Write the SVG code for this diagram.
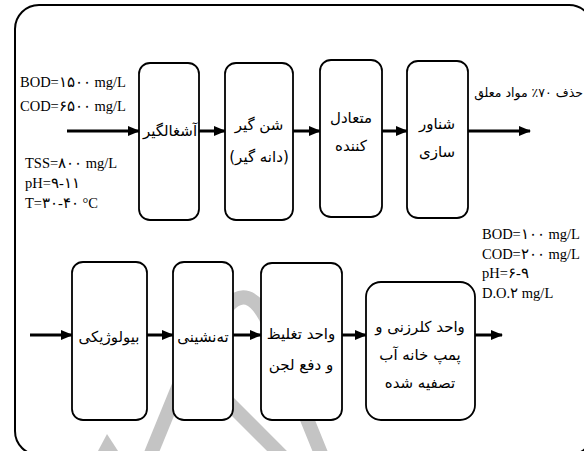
<svg xmlns="http://www.w3.org/2000/svg" width="584" height="451" viewBox="0 0 584 451">
<style>
.box{fill:#fff;stroke:#000;stroke-width:1.8}
.lat{font-family:"Liberation Serif","DejaVu Serif",serif;font-size:14.5px;fill:#000}
.fa{font-family:"DejaVu Sans","Noto Sans",sans-serif;font-size:15px;fill:#000}
.con{stroke:#000;stroke-width:3;fill:none}
.wm{stroke:#c4c4c4;stroke-width:14;fill:none}
</style>
<defs>
<marker id="ah" markerUnits="userSpaceOnUse" markerWidth="12" markerHeight="10" refX="11" refY="5" orient="auto">
<path d="M0,0 L12,5 L0,10 Z" fill="#000"/>
</marker>
</defs>
<rect x="15" y="5" width="578" height="450" rx="24" fill="#fff" stroke="#000" stroke-width="2"/>
<g id="watermark">
<path class="wm" d="M228,306 Q248,284 266,318 L322,456"/>
<path class="wm" d="M150,456 L186,368"/>
<path class="wm" d="M198,372 L282,456"/>
<path d="M98,451 L107,434 L118,451 Z" fill="#c4c4c4"/>
</g>
<g id="connectors">
<line class="con" x1="67" y1="131" x2="139" y2="131" marker-end="url(#ah)"/>
<line class="con" x1="199" y1="131" x2="225" y2="131" marker-end="url(#ah)"/>
<line class="con" x1="293" y1="131" x2="320" y2="131" marker-end="url(#ah)"/>
<line class="con" x1="382" y1="131" x2="407" y2="131" marker-end="url(#ah)"/>
<line class="con" x1="468" y1="131" x2="530" y2="131" marker-end="url(#ah)"/>
<line class="con" x1="30" y1="335" x2="72" y2="335" marker-end="url(#ah)"/>
<line class="con" x1="147" y1="335" x2="173" y2="335" marker-end="url(#ah)"/>
<line class="con" x1="233" y1="335" x2="261" y2="335" marker-end="url(#ah)"/>
<line class="con" x1="342" y1="335" x2="366" y2="335" marker-end="url(#ah)"/>
<line class="con" x1="475" y1="335" x2="502" y2="335" marker-end="url(#ah)"/>
</g>
<g id="n1"><rect class="box" x="139" y="63" width="60" height="157" rx="11"/>
<text class="fa" x="170" y="136" text-anchor="middle" direction="rtl">آشغالگیر</text></g>
<g id="n2"><rect class="box" x="225" y="63" width="68" height="157" rx="11"/>
<text class="fa" x="259" y="130" text-anchor="middle" direction="rtl">شن گیر</text>
<text class="fa" x="259" y="162" text-anchor="middle" direction="rtl">(دانه گیر)</text></g>
<g id="n3"><rect class="box" x="320" y="60" width="62" height="157" rx="11"/>
<text class="fa" x="351" y="123" text-anchor="middle" direction="rtl">متعادل</text>
<text class="fa" x="351" y="151" text-anchor="middle" direction="rtl">کننده</text></g>
<g id="n4"><rect class="box" x="407" y="61" width="61" height="157" rx="11"/>
<text class="fa" x="437" y="129" text-anchor="middle" direction="rtl">شناور</text>
<text class="fa" x="437" y="157" text-anchor="middle" direction="rtl">سازی</text></g>
<g id="n5"><rect class="box" x="72" y="262" width="75" height="158" rx="11"/>
<text class="fa" x="109" y="342" text-anchor="middle" direction="rtl">بیولوژیکی</text></g>
<g id="n6"><rect class="box" x="173" y="262" width="60" height="158" rx="11"/>
<text class="fa" x="203" y="342" text-anchor="middle" direction="rtl">ته‌نشینی</text></g>
<g id="n7"><rect class="box" x="261" y="263" width="81" height="157" rx="11"/>
<text class="fa" x="301" y="339" text-anchor="middle" direction="rtl">واحد تغلیظ</text>
<text class="fa" x="301" y="370" text-anchor="middle" direction="rtl">و دفع لجن</text></g>
<g id="n8"><rect class="box" x="366" y="282" width="109" height="138" rx="15"/>
<text class="fa" x="420" y="332" text-anchor="middle" direction="rtl">واحد کلرزنی و</text>
<text class="fa" x="420" y="360" text-anchor="middle" direction="rtl">پمپ خانه آب</text>
<text class="fa" x="420" y="388" text-anchor="middle" direction="rtl">تصفیه شده</text></g>
<g id="labels">
<text class="lat" x="20" y="87">BOD=۱۵۰۰ mg/L</text>
<text class="lat" x="20" y="111">COD=۶۵۰۰ mg/L</text>
<text class="lat" x="25" y="168">TSS=۸۰۰ mg/L</text>
<text class="lat" x="25" y="188">pH=۹-۱۱</text>
<text class="lat" x="25" y="208">T=۳۰-۴۰ °C</text>
<text class="fa" x="583" y="97" style="font-size:12.5px" text-anchor="start" direction="rtl">حذف ۷۰٪ مواد معلق</text>
<text class="lat" x="482" y="239">BOD=۱۰۰ mg/L</text>
<text class="lat" x="482" y="259">COD=۲۰۰ mg/L</text>
<text class="lat" x="482" y="278">pH=۶-۹</text>
<text class="lat" x="482" y="298">D.O.۲ mg/L</text>
</g>
</svg>
